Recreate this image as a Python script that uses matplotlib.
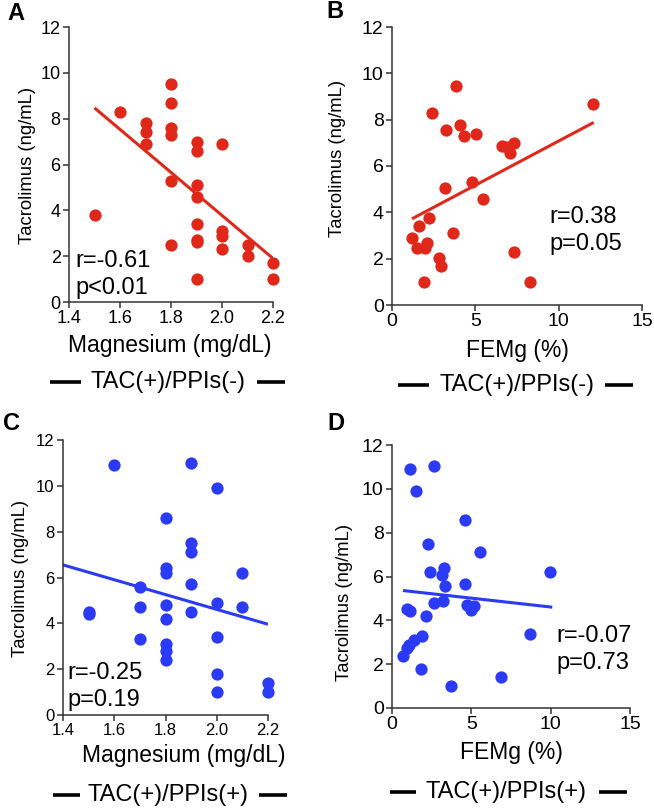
import matplotlib
matplotlib.use('Agg')
import matplotlib.pyplot as plt
from matplotlib.lines import Line2D
import numpy as np

plt.rcParams['font.family'] = ['Liberation Sans', 'DejaVu Sans']

RED = '#e0281a'
BLUE = '#2a3af5'

# panel A: magnesium vs tacrolimus, TAC(+)/PPIs(-)
mg_a = [1.5, 1.6, 1.7, 1.7, 1.7, 1.8, 1.8, 1.8, 1.8, 1.8, 1.8,
        1.9, 1.9, 1.9, 1.9, 1.9, 1.9, 1.9, 1.9, 2.0, 2.0, 2.0, 2.0,
        2.1, 2.1, 2.2, 2.2]
tac_a = [3.8, 8.3, 7.8, 7.4, 6.9, 9.5, 8.7, 7.6, 7.3, 5.3, 2.5,
         7.0, 6.6, 5.1, 4.6, 3.4, 2.7, 2.6, 1.0, 6.9, 3.1, 2.9, 2.3,
         2.5, 2.0, 1.7, 1.0]
fit_a_x = [1.5, 2.2]
fit_a_y = [8.47, 1.9]

# panel B: FEMg vs tacrolimus, TAC(+)/PPIs(-)
fe_b = [3.86, 12.06, 2.4, 3.24, 4.06, 4.34, 5.04, 6.6, 6.9, 7.34, 7.06,
        3.2, 4.8, 5.44, 2.2, 1.6, 1.2, 1.5, 2.1, 1.96, 3.64, 2.84, 2.94,
        1.9, 7.34, 8.26]
tac_b = [9.47, 8.67, 8.29, 7.56, 7.78, 7.3, 7.39, 6.87, 6.84, 7.0, 6.56,
         5.07, 5.3, 4.58, 3.77, 3.39, 2.88, 2.48, 2.69, 2.45, 3.1, 2.02, 1.69,
         1.01, 2.28, 1.01]
fit_b_x = [1.2, 12.1]
fit_b_y = [3.72, 7.88]

# panel C: magnesium vs tacrolimus, TAC(+)/PPIs(+)
mg_c = [1.5, 1.5, 1.6, 1.7, 1.7, 1.7,
        1.8, 1.8, 1.8, 1.8, 1.8, 1.8, 1.8, 1.8,
        1.9, 1.9, 1.9, 1.9, 1.9,
        2.0, 2.0, 2.0, 2.0, 2.0,
        2.1, 2.1, 2.2, 2.2]
tac_c = [4.5, 4.4, 10.9, 5.6, 4.7, 3.3,
         8.6, 6.4, 6.2, 4.8, 4.2, 3.1, 2.8, 2.4,
         11.0, 7.5, 7.1, 5.7, 4.5,
         9.9, 4.9, 3.4, 1.8, 1.0,
         6.2, 4.7, 1.4, 1.0]
fit_c_x = [1.4, 2.2]
fit_c_y = [6.55, 3.96]

# panel D: FEMg vs tacrolimus, TAC(+)/PPIs(+)
fe_d = [1.16, 2.63, 1.54, 4.59, 2.27, 5.52, 2.42, 3.3, 3.16, 3.37, 4.59,
        9.96, 2.63, 3.22, 4.74, 5.16, 4.99, 0.95, 1.16, 2.17, 1.9, 1.37,
        1.05, 0.95, 0.69, 1.85, 3.73, 6.9, 8.67]
tac_d = [10.9, 11.02, 9.88, 8.59, 7.5, 7.1, 6.19, 6.38, 6.08, 5.58, 5.67,
         6.19, 4.79, 4.86, 4.71, 4.67, 4.48, 4.51, 4.41, 4.21, 3.3, 3.12,
         2.89, 2.74, 2.36, 1.78, 0.99, 1.4, 3.39]
fit_d_x = [0.69, 10.1]
fit_d_y = [5.36, 4.6]

W, H = 654, 809
fig = plt.figure(figsize=(W / 100, H / 100), dpi=100)


def px(x, y):
    return x / W, 1 - y / H


def panel(rect, x, y, fx, fy, color, xlim, xticks, xticklabels, xlabel,
          tick_fs, stats, stats_pos, ylab_x, xlab_y):
    ax = fig.add_axes(rect)
    ax.scatter(x, y, s=78, color=color, linewidths=0, clip_on=False, zorder=3)
    ax.plot(fx, fy, color=color, lw=2.2, zorder=2, solid_capstyle='butt')
    ax.set_xlim(*xlim)
    ax.set_ylim(0, 12)
    ax.set_xticks(xticks)
    ax.set_xticklabels(xticklabels)
    ax.set_yticks(np.arange(0, 13, 2))
    for s in ['top', 'right']:
        ax.spines[s].set_visible(False)
    for s in ['left', 'bottom']:
        ax.spines[s].set_color('#333333')
        ax.spines[s].set_linewidth(1.1)
    ax.tick_params(direction='out', length=4, width=1.1, color='#333333',
                   labelsize=tick_fs, pad=2)
    ax.set_xlabel(xlabel, fontsize=16.5, labelpad=0)
    ax.set_ylabel('Tacrolimus (ng/mL)', fontsize=13.3)
    ax.yaxis.set_label_coords(*ylab_x, transform=fig.transFigure)
    ax.xaxis.set_label_coords(*xlab_y, transform=fig.transFigure)
    ax.text(stats_pos[0], stats_pos[1], stats, transform=ax.transAxes,
            fontsize=17, va='bottom', ha='left', linespacing=1.3)
    return ax


panel([69 / W, 1 - 302 / H, 204 / W, 275 / H], mg_a, tac_a, fit_a_x, fit_a_y,
      RED, (1.4, 2.2), [1.4, 1.6, 1.8, 2.0, 2.2],
      ['1.4', '1.6', '1.8', '2.0', '2.2'], 'Magnesium (mg/dL)', 13,
      'r=-0.61\np<0.01', (0.03, 0.012), px(36, 165), px(170, 334))

panel([392 / W, 1 - 305 / H, 250 / W, 278 / H], fe_b, tac_b, fit_b_x, fit_b_y,
      RED, (0, 15), [0, 5, 10, 15], ['0', '5', '10', '15'], 'FEMg (%)', 14,
      'r=0.38\np=0.05', (0.63, 0.18), px(346, 158), px(517, 339))

panel([63 / W, 1 - 715 / H, 205 / W, 275 / H], mg_c, tac_c, fit_c_x, fit_c_y,
      BLUE, (1.4, 2.2), [1.4, 1.6, 1.8, 2.0, 2.2],
      ['1.4', '1.6', '1.8', '2.0', '2.2'], 'Magnesium (mg/dL)', 12,
      'r=-0.25\np=0.19', (0.02, 0.015), px(29, 578), px(184, 744))

panel([392 / W, 1 - 708 / H, 238 / W, 263 / H], fe_d, tac_d, fit_d_x, fit_d_y,
      BLUE, (0, 15), [0, 5, 10, 15], ['0', '5', '10', '15'], 'FEMg (%)', 14,
      'r=-0.07\np=0.73', (0.69, 0.13), px(353, 602), px(511, 741))

# group captions with bars on each side
captions = [
    ('TAC(+)/PPIs(-)', 168, 382, (50, 81), (257, 285)),
    ('TAC(+)/PPIs(-)', 517, 385, (398, 429), (605, 633)),
    ('TAC(+)/PPIs(+)', 168, 795, (53, 80), (259, 287)),
    ('TAC(+)/PPIs(+)', 506, 792, (390, 416), (599, 627)),
]
for label, cx, cy, left, right in captions:
    fig.text(*px(cx, cy), label, fontsize=17, ha='center', va='center')
    for x0, x1 in (left, right):
        fig.add_artist(Line2D([x0 / W, x1 / W], [1 - cy / H, 1 - cy / H],
                              transform=fig.transFigure, color='black',
                              lw=2.6, solid_capstyle='butt'))

# panel letters
for letter, lx, ly in [('A', 16, 13), ('B', 335, 12), ('C', 12, 423), ('D', 336, 423)]:
    fig.text(*px(lx, ly), letter, fontsize=17, fontweight='bold',
             ha='center', va='center')

fig.savefig('out.png', dpi=100)
